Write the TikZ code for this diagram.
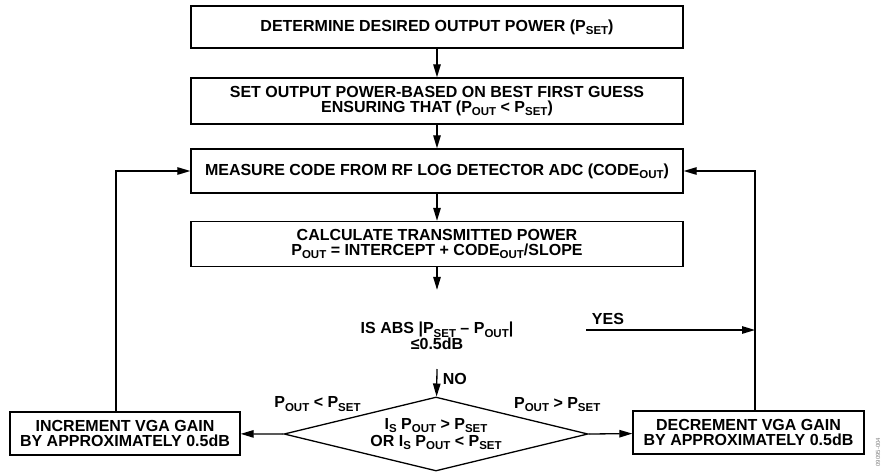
\documentclass[tikz,border=0pt]{standalone}
\usepackage{fontspec}
\setmainfont{Liberation Sans}
\usetikzlibrary{arrows.meta,shapes.geometric}
\newcommand{\sub}[1]{\raisebox{-0.2em}{\fontsize{11.5}{11.5}\selectfont #1}}
\begin{document}
\begin{tikzpicture}[
  x=1pt, y=-1pt,
  every node/.style={font=\fontsize{16}{15.5}\selectfont\bfseries, align=center},
  stepbox/.style={draw, rectangle, line width=1.4pt, minimum width=492pt, inner sep=0pt},
  gainbox/.style={draw, rectangle, line width=1.4pt, minimum width=230pt, minimum height=43pt, inner sep=0pt},
  decision/.style={draw, diamond, aspect=4.1, line width=1.3pt, inner sep=0pt, minimum width=304pt, minimum height=74pt,
    font=\fontsize{16}{16.5}\selectfont\bfseries},
  edge/.style={-{Triangle[length=13pt,width=7.5pt]}, line width=1.3pt}
]
\useasboundingbox (0,0) rectangle (883,474);

% Main column
\node[stepbox, minimum height=42pt] (pset) at (437,27) {DETERMINE DESIRED OUTPUT POWER (P\sub{SET})};
\node[stepbox, minimum height=46pt] (guess) at (437,101) {SET OUTPUT POWER-BASED ON BEST FIRST GUESS\\ENSURING THAT (P\sub{OUT} < P\sub{SET})};
\node[stepbox, minimum height=44pt] (measure) at (437,171) {MEASURE CODE FROM RF LOG DETECTOR ADC (CODE\sub{OUT})};
\node[stepbox, minimum height=45pt] (calc) at (437,244) {CALCULATE TRANSMITTED POWER\\P\sub{OUT} = INTERCEPT + CODE\sub{OUT}/SLOPE};

% Check and decision
\node (check) at (437,336) {IS ABS |P\sub{SET} – P\sub{OUT}|\\≤0.5dB};
\node[decision] (sign) at (436,434) {I\sub{S} P\sub{OUT} > P\sub{SET}\\OR I\sub{S} P\sub{OUT} < P\sub{SET}};
\coordinate (yesstart) at (586,330);

% Gain steps
\node[gainbox] (inc) at (125,433.5) {INCREMENT VGA GAIN\\BY APPROXIMATELY 0.5dB};
\node[gainbox, minimum width=231pt] (dec) at (748.5,432.5) {DECREMENT VGA GAIN\\BY APPROXIMATELY 0.5dB};

% Column edges
\draw[edge] (pset) -- (guess);
\draw[edge] (guess) -- (measure);
\draw[edge] (measure) -- (calc);
\draw[edge, shorten >=29pt] (calc) -- (check);
\draw[edge] ([yshift=-33pt]check.center) -- (sign) node[pos=0.35, right, xshift=2pt] {NO};
\draw[edge] (yesstart) -- ++(169,0) node[pos=0.13, above, yshift=1pt] {YES};

% Branches
\draw[edge] (sign.west) -- (inc) node[pos=-0.8, above, yshift=19pt] {P\sub{OUT} < P\sub{SET}};
\draw[edge] (sign.east) -- (dec) node[pos=-0.72, above, yshift=19pt] {P\sub{OUT} > P\sub{SET}};

% Feedback loops
\draw[edge] ([xshift=-9pt]inc.north) |- (measure.west);
\draw[edge] ([xshift=6.5pt]dec.north) |- (measure.east);

\node[rotate=90, font=\fontsize{6}{7}\selectfont, text=gray] (fignum) at (878,452) {09095-004};
\end{tikzpicture}
\end{document}
